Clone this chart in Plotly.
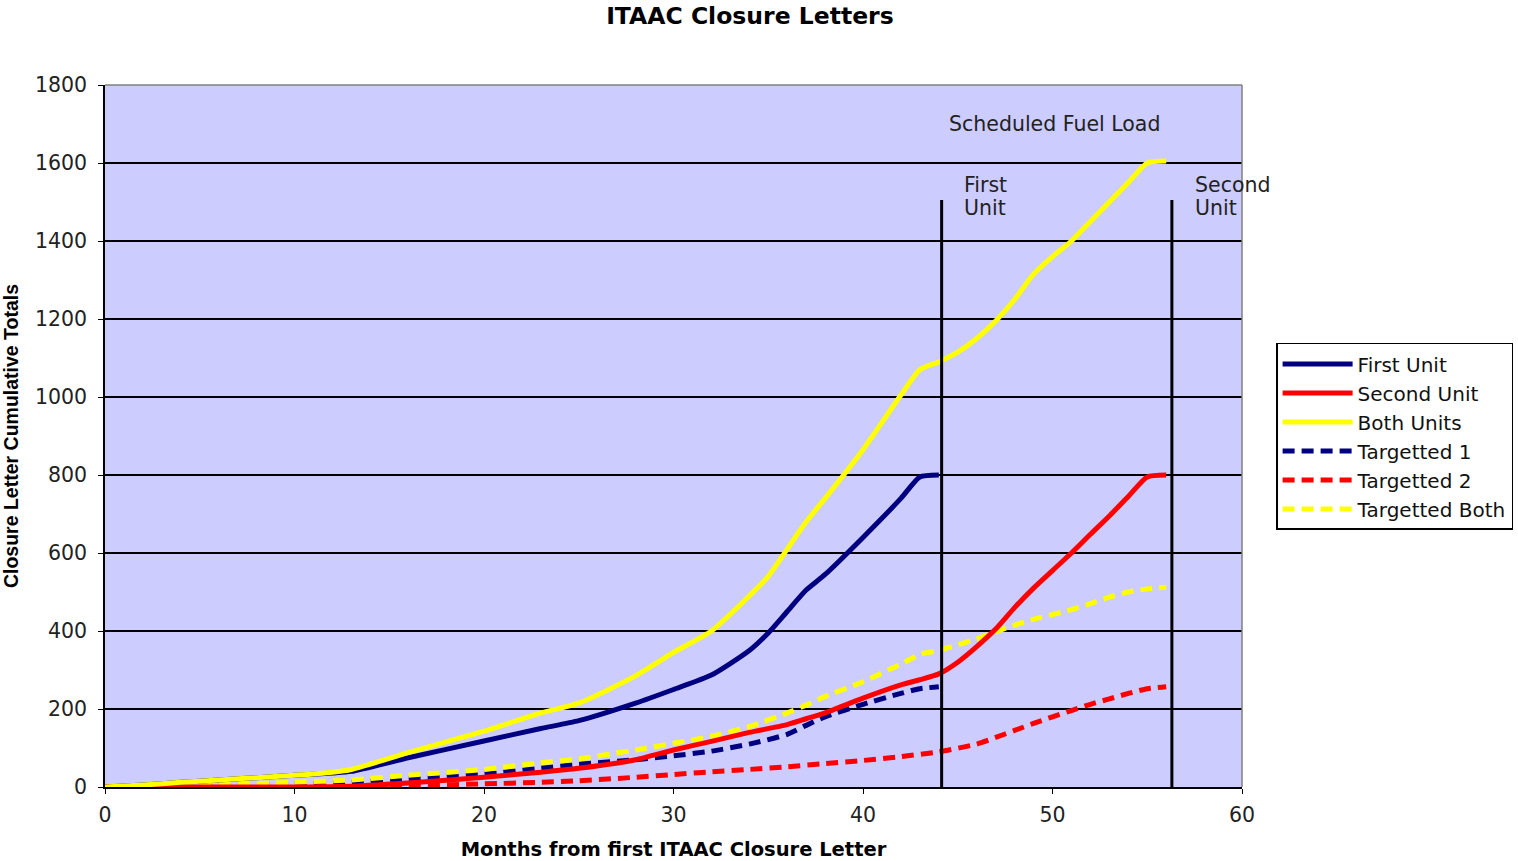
import plotly.graph_objects as go

# Months from the first closure letter, per series
first_months = [0, 2, 4, 6, 8, 10, 12, 13, 16, 20, 23, 25, 28, 30, 32, 34, 35, 36, 37, 38, 40, 42, 43, 44]
first_unit = [0, 5, 12, 18, 24, 30, 36, 40, 75, 118, 150, 170, 215, 250, 287, 350, 395, 450, 505, 545, 640, 740, 795, 800]

second_months = [0, 10, 13, 16, 20, 23, 25, 28, 30, 32, 34, 36, 37, 38, 40, 42, 43, 44, 45, 46, 47, 48, 49, 50, 51, 52, 53, 54, 55, 56]
second_unit = [0, 0, 2, 10, 25, 38, 48, 70, 95, 117, 140, 160, 175, 190, 228, 262, 275, 290, 320, 360, 405, 460, 510, 555, 600, 648, 695, 745, 795, 800]

both_months = [0, 2, 4, 6, 8, 10, 12, 13, 16, 20, 23, 25, 28, 30, 32, 34, 35, 36, 37, 38, 40, 42, 43, 44, 45, 46, 47, 48, 49, 50, 51, 52, 53, 54, 55, 56]
both_units = [0, 5, 12, 18, 24, 30, 38, 45, 88, 143, 190, 215, 285, 345, 400, 490, 540, 610, 680, 740, 865, 1005, 1070, 1090, 1115, 1150, 1195, 1250, 1315, 1360, 1400, 1450, 1500, 1550, 1600, 1605]

target1_months = [0, 5, 10, 13, 16, 20, 23, 25, 28, 30, 32, 34, 36, 37, 38, 40, 42, 43, 44]
targetted_1 = [0, 3, 8, 12, 20, 33, 48, 58, 70, 80, 92, 110, 135, 158, 180, 212, 240, 252, 257]

target2_months = [0, 10, 13, 16, 20, 23, 25, 28, 30, 32, 34, 36, 38, 40, 42, 44, 46, 47, 48, 49, 50, 51, 52, 53, 54, 55, 56]
targetted_2 = [0, 0, 1, 4, 8, 12, 16, 25, 32, 39, 45, 52, 60, 68, 78, 90, 110, 127, 145, 163, 180, 196, 212, 226, 240, 252, 257]

target_both_months = [0, 5, 10, 13, 16, 20, 23, 25, 28, 30, 32, 34, 36, 37, 38, 40, 42, 43, 44, 46, 47, 48, 49, 50, 51, 52, 53, 54, 55, 56]
targetted_both = [0, 5, 12, 18, 30, 45, 62, 72, 95, 112, 130, 155, 190, 210, 232, 270, 315, 340, 350, 380, 398, 415, 430, 442, 455, 470, 487, 500, 508, 512]

# Scheduled fuel load months for each unit
fuel_load_months = [44.15, 56.3]
fuel_load_labels = [["First", "Unit"], ["Second", "Unit"]]

x_ticks = [0, 10, 20, 30, 40, 50, 60]
y_ticks = [0, 200, 400, 600, 800, 1000, 1200, 1400, 1600, 1800]

NAVY, RED, YELLOW = "#000080", "#FF0000", "#FFFF00"
DASH = "12px,7px"
FONT = "DejaVu Sans"
TEXT = "#222222"

series = [
    ("First Unit", first_months, first_unit, NAVY, "solid"),
    ("Second Unit", second_months, second_unit, RED, "solid"),
    ("Both Units", both_months, both_units, YELLOW, "solid"),
    ("Targetted 1", target1_months, targetted_1, NAVY, DASH),
    ("Targetted 2", target2_months, targetted_2, RED, DASH),
    ("Targetted Both", target_both_months, targetted_both, YELLOW, DASH),
]

fig = go.Figure()
# dashed targets go underneath the solid actuals
order = [3, 4, 5, 0, 1, 2]
for i in order:
    name, xs, ys, color, dash = series[i]
    fig.add_trace(go.Scatter(
        x=xs, y=ys, name=name, mode="lines",
        line=dict(color=color, width=5, dash=dash, shape="spline", smoothing=0.6),
        legendrank=i + 1,
    ))

for m in fuel_load_months:
    fig.add_shape(type="line", xref="x", yref="y", x0=m, x1=m, y0=-20, y1=1505,
                  line=dict(color="black", width=3))

# two-line labels beside each fuel load marker
for m, lines in zip(fuel_load_months, fuel_load_labels):
    for k, word in enumerate(lines):
        fig.add_annotation(x=m + 1.1, y=1543 - k * 59, xref="x", yref="y", text=word,
                           showarrow=False, xanchor="left", yanchor="middle",
                           font=dict(family=FONT, size=20.5, color=TEXT))

fig.add_annotation(x=50.1, y=1700, xref="x", yref="y", text="Scheduled Fuel Load",
                   showarrow=False, xanchor="center", yanchor="middle",
                   font=dict(family=FONT, size=20.5, color=TEXT))

# gray frame on top and right of the plotting area
fig.add_shape(type="line", xref="paper", yref="paper", x0=0, x1=1, y0=1, y1=1,
              line=dict(color="#808080", width=1.5))
fig.add_shape(type="line", xref="paper", yref="paper", x0=1, x1=1, y0=0, y1=1,
              line=dict(color="#808080", width=1.5))

fig.update_layout(
    width=1518, height=861,
    margin=dict(l=105, r=276, t=85, b=74, autoexpand=False),
    paper_bgcolor="white",
    plot_bgcolor="#CCCCFF",
    title=dict(text="<b>ITAAC Closure Letters</b>", x=0.494, xanchor="center",
               y=0.982, yanchor="middle",
               font=dict(family=FONT, size=23.5, color="black")),
    xaxis=dict(
        range=[0, 60], tickvals=x_ticks, showgrid=False, zeroline=False,
        showline=True, linecolor="black", linewidth=1.5, automargin=False,
        ticks="outside", ticklen=5, tickcolor="black", ticklabelstandoff=4,
        tickfont=dict(family=FONT, size=20.5, color=TEXT),
        title=dict(text="<b>Months from first ITAAC Closure Letter</b>",
                   font=dict(family=FONT, size=19.5, color="black"), standoff=17),
    ),
    yaxis=dict(
        range=[0, 1800], tickvals=y_ticks, showgrid=True, gridcolor="black", gridwidth=1.5,
        zeroline=False, showline=True, linecolor="black", linewidth=1.5, automargin=False,
        ticks="outside", ticklen=5, tickcolor="black", ticklabelstandoff=7,
        tickfont=dict(family=FONT, size=20.5, color=TEXT),
        title=dict(text="<b>Closure Letter Cumulative Totals</b>",
                   font=dict(family="Liberation Sans", size=19.5, color="black"), standoff=12),
    ),
    legend=dict(
        x=1.03, y=0.6325, xanchor="left", yanchor="top",
        bgcolor="white", bordercolor="black", borderwidth=1.5,
        font=dict(family=FONT, size=20, color="#111111"),
        itemwidth=70, tracegroupgap=0,
    ),
)

fig.write_html("out.html")
